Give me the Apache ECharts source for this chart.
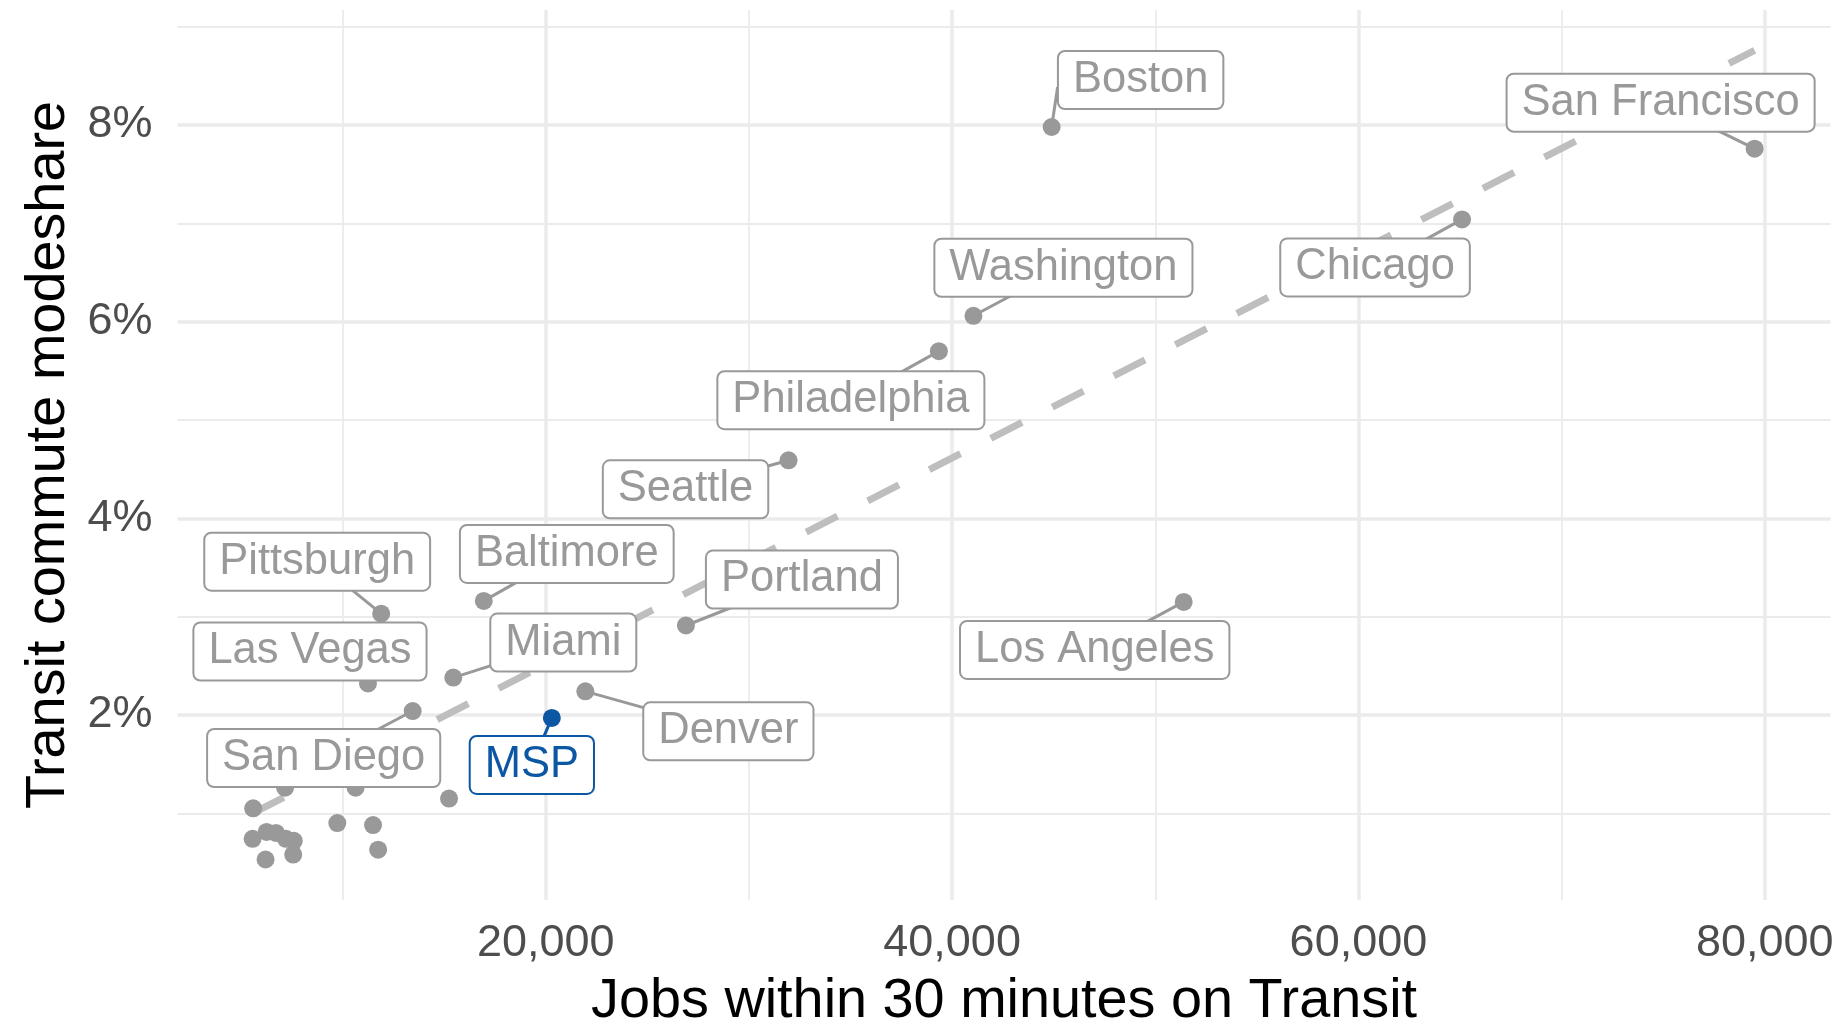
<!DOCTYPE html>
<html>
<head>
<meta charset="utf-8">
<title>Transit modeshare vs jobs</title>
<script src="https://cdn.jsdelivr.net/npm/echarts@6/dist/echarts.min.js"></script>
<style>
	html, body { margin: 0; padding: 0; background: #fff; }
	#chart { width: 1838px; height: 1027px; }
</style>
</head>
<body>
<div id="chart"></div>
<script>
// labelled metros
var cityNames = ['Boston', 'San Francisco', 'Chicago', 'Washington', 'Philadelphia', 'Seattle', 'Pittsburgh',
	'Baltimore', 'Portland', 'Las Vegas', 'Miami', 'Denver', 'San Diego', 'MSP', 'Los Angeles'];
var cityJobs = [44900, 79500, 65100, 41050, 39350, 31950, 11900, 16950, 26900, 11250, 15450, 21950, 13450, 20300, 51400];
var cityShare = [7.98, 7.76, 7.04, 6.06, 5.70, 4.59, 3.03, 3.16, 2.91, 2.32, 2.38, 2.24, 2.04, 1.97, 3.15];

// unlabelled metros
var otherJobs = [7170, 10640, 15240, 5600, 9740, 11500, 5570, 6260, 6720, 7210, 7600, 7570, 6210, 11750];
var otherShare = [1.26, 1.26, 1.15, 1.05, 0.90, 0.88, 0.74, 0.81, 0.80, 0.74, 0.72, 0.58, 0.53, 0.63];

// linear fit end points
var trendJobs = [5570, 79500];
var trendShare = [1.00, 8.76];

// axis ticks
var xMajor = [20000, 40000, 60000, 80000];
var xMinor = [10000, 30000, 50000, 70000];
var yMajor = [2, 4, 6, 8];
var yMinor = [1, 3, 5, 7, 9];

// where the label boxes sit relative to their point (px)
var labelShift = [[89, -47], [-94, -46], [-87, 48], [90, -48], [-88, 49], [-103, 29], [-64, -52],
	[83, -47], [116, -46], [-58, -32], [110, -35], [143, 40], [-89, 47], [-20, 47], [-89, 48]];
// where the leader segment aims (defaults to the box centre)
var segmentAim = {0: [6, -40]};

var GREY = '#999999';
var BLUE = '#0B57A4';
var FONT = '"Liberation Sans", Arial, Helvetica, sans-serif';

var chart = echarts.init(document.getElementById('chart'));

function gridLines(){
	var lines = [];
	xMajor.forEach(function(v){ lines.push({xAxis: v, lineStyle: {width: 3.5}}); });
	xMinor.forEach(function(v){ lines.push({xAxis: v, lineStyle: {width: 1.8}}); });
	yMajor.forEach(function(v){ lines.push({yAxis: v, lineStyle: {width: 3.5}}); });
	yMinor.forEach(function(v){ lines.push({yAxis: v, lineStyle: {width: 1.8}}); });
	return lines;
}

function colorOf(name){
	return name === 'MSP' ? BLUE : GREY;
}

var cityData = [];
for(var i=0; i<cityNames.length; i++){
	var c = colorOf(cityNames[i]);
	cityData.push({
		name: cityNames[i],
		value: [cityJobs[i], cityShare[i]],
		itemStyle: {color: c},
		label: {color: c, borderColor: c}
	});
}

var otherData = [];
for(i=0; i<otherJobs.length; i++){
	otherData.push([otherJobs[i], otherShare[i]]);
}

var trendData = [];
for(i=0; i<trendJobs.length; i++){
	trendData.push([trendJobs[i], trendShare[i]]);
}

var option = {
	animation: false,
	textStyle: {fontFamily: FONT},
	grid: {
		left: 177.5,
		right: 7.4,
		top: 10,
		bottom: 127,
		containLabel: false,
		outerBoundsMode: 'none'
	},
	xAxis: {
		type: 'value',
		min: 1875,
		max: 83240,
		name: 'Jobs within 30 minutes on Transit',
		nameLocation: 'middle',
		nameGap: 74,
		nameTextStyle: {fontSize: 55.8, color: '#000', fontFamily: FONT},
		axisLine: {show: false},
		axisTick: {show: false},
		splitLine: {show: false},
		axisLabel: {
			customValues: xMajor,
			margin: 21,
			fontSize: 45,
			color: '#4D4D4D',
			fontFamily: FONT,
			formatter: function(v){ return v.toLocaleString('en-US'); }
		}
	},
	yAxis: {
		type: 'value',
		min: 0.118,
		max: 9.17,
		name: 'Transit commute modeshare',
		nameLocation: 'middle',
		nameGap: 101,
		nameTextStyle: {fontSize: 55.8, color: '#000', fontFamily: FONT},
		axisLine: {show: false},
		axisTick: {show: false},
		splitLine: {show: false},
		axisLabel: {
			customValues: yMajor,
			margin: 25,
			fontSize: 45,
			color: '#4D4D4D',
			fontFamily: FONT,
			formatter: function(v){ return v + '%'; }
		}
	},
	series: [
		{
			// panel grid
			type: 'line',
			data: [],
			silent: true,
			z: 0,
			markLine: {
				silent: true,
				z: 0,
				symbol: 'none',
				label: {show: false},
				lineStyle: {color: '#EBEBEB', type: 'solid'},
				data: gridLines()
			}
		},
		{
			type: 'line',
			data: trendData,
			z: 2,
			silent: true,
			showSymbol: false,
			lineStyle: {color: '#BEBEBE', width: 7, type: [35, 34], cap: 'butt'}
		},
		{
			type: 'scatter',
			data: otherData,
			z: 3,
			symbolSize: 18,
			itemStyle: {color: GREY, opacity: 1}
		},
		{
			// leader segments, point -> label box (box hides the rest)
			type: 'custom',
			z: 3,
			silent: true,
			data: cityData.map(function(d){ return d.value; }),
			renderItem: function(params, api){
				var p = api.coord([api.value(0), api.value(1)]);
				var s = segmentAim[params.dataIndex] || labelShift[params.dataIndex];
				return {
					type: 'line',
					shape: {x1: p[0], y1: p[1], x2: p[0] + s[0], y2: p[1] + s[1]},
					style: {stroke: colorOf(cityNames[params.dataIndex]), lineWidth: 3}
				};
			}
		},
		{
			type: 'scatter',
			data: cityData,
			z: 4,
			symbolSize: 18,
			itemStyle: {opacity: 1},
			label: {
				show: true,
				position: 'inside',
				formatter: '{b}',
				fontSize: 43.5,
				fontFamily: FONT,
				backgroundColor: '#fff',
				borderWidth: 2,
				borderRadius: 6,
				padding: [7, 14, 5, 14],
				textBorderWidth: 0
			},
			labelLayout: function(p){
				var s = labelShift[p.dataIndex];
				return {dx: s[0], dy: s[1]};
			}
		}
	]
};

chart.setOption(option);
</script>
</body>
</html>
